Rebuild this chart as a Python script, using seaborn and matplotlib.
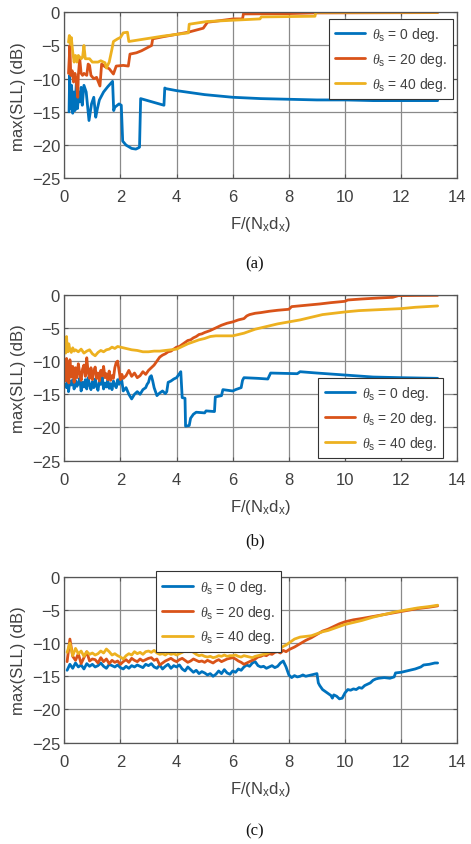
import matplotlib
matplotlib.use('Agg')
import matplotlib.pyplot as plt
import pandas as pd
import seaborn as sns

# ---- data ----
labels = [r'$\theta_{\rm s}$ = 0 deg.', r'$\theta_{\rm s}$ = 20 deg.', r'$\theta_{\rm s}$ = 40 deg.']
colors = ['#0072BD', '#D95319', '#EDB120']

# panel (a)
a0_x = [0.17, 0.19, 0.22, 0.26, 0.30, 0.34, 0.38, 0.43, 0.47, 0.52, 0.56, 0.60, 0.64, 0.70, 0.78,
        0.88, 0.97, 1.05, 1.12, 1.18, 1.25, 1.40, 1.55, 1.72, 1.76, 1.80, 1.95, 2.03, 2.08, 2.20,
        2.40, 2.55, 2.65, 2.68, 2.72, 3.55, 3.58, 3.62, 4.0, 4.5, 5.0, 5.5, 6.0, 7.0, 8.0, 9.0,
        10.0, 11.0, 12.0, 13.3]
a0_y = [-15.0, -9.5, -14.5, -11.0, -15.2, -12.0, -14.8, -10.5, -14.5, -12.0, -13.5, -11.3, -14.0,
        -11.0, -12.0, -16.3, -13.8, -12.8, -15.8, -14.5, -13.2, -12.0, -11.2, -10.4, -14.8, -14.3,
        -13.8, -14.0, -19.4, -20.0, -20.5, -20.6, -20.4, -20.3, -13.0, -14.0, -11.4, -11.5, -11.8,
        -12.1, -12.4, -12.6, -12.8, -13.0, -13.1, -13.2, -13.2, -13.3, -13.3, -13.3]
a20_x = [0.15, 0.20, 0.23, 0.28, 0.33, 0.38, 0.42, 0.48, 0.50, 0.55, 0.60, 0.65, 0.70, 0.80, 0.85,
         0.90, 0.95, 1.05, 1.15, 1.27, 1.33, 1.45, 1.60, 1.75, 1.85, 2.10, 2.28, 2.34, 2.57, 2.75,
         3.11, 3.15, 3.50, 4.42, 4.95, 5.10, 5.30, 6.02, 6.35, 6.38, 8.0, 8.87, 13.3]
a20_y = [-9.2, -5.0, -9.5, -8.8, -10.5, -9.2, -10.2, -12.8, -9.5, -7.0, -9.2, -9.5, -9.2, -9.5, -7.8,
         -8.0, -9.5, -10.0, -9.8, -11.1, -7.8, -8.2, -8.5, -9.3, -8.1, -8.0, -8.1, -6.3, -6.1, -5.8,
         -5.0, -4.0, -3.7, -3.0, -2.4, -1.5, -1.4, -1.0, -1.0, -0.25, -0.2, -0.1, -0.05]
a40_x = [0.15, 0.18, 0.22, 0.25, 0.30, 0.35, 0.40, 0.45, 0.50, 0.60, 0.65, 0.70, 0.75, 0.90, 1.00,
         1.20, 1.30, 1.45, 1.50, 1.60, 1.70, 1.75, 1.90, 2.00, 2.10, 2.25, 2.30, 3.50, 4.42, 4.45,
         5.07, 6.0, 6.97, 7.02, 8.93, 8.96, 13.3]
a40_y = [-4.5, -3.5, -4.8, -3.8, -6.0, -7.5, -6.5, -7.5, -6.5, -7.0, -6.8, -5.0, -7.0, -7.0, -7.5,
         -7.5, -7.3, -7.6, -8.4, -7.5, -5.5, -4.4, -4.0, -3.8, -3.1, -3.0, -4.4, -3.6, -3.1, -1.8,
         -1.4, -1.2, -1.0, -0.7, -0.6, 0.0, 0.0]

# panel (b)
b0_x = [0.05, 0.08, 0.12, 0.15, 0.2, 0.25, 0.3, 0.35, 0.4, 0.45, 0.5, 0.55, 0.6, 0.65, 0.7, 0.75,
        0.8, 0.85, 0.9, 0.95, 1.0, 1.05, 1.1, 1.15, 1.2, 1.25, 1.3, 1.35, 1.4, 1.45, 1.5, 1.55, 1.6,
        1.65, 1.7, 1.75, 1.8, 1.85, 1.9, 1.95, 2.0, 2.05, 2.1, 2.2, 2.3, 2.4, 2.5, 2.6, 2.7, 2.8,
        2.9, 2.95, 3.0, 3.05, 3.1, 3.15, 3.2, 3.3, 3.4, 3.5, 3.6, 3.65, 3.7, 3.8, 3.9, 4.0, 4.1,
        4.15, 4.2, 4.3, 4.32, 4.45, 4.5, 4.6, 4.7, 5.0, 5.05, 5.35, 5.38, 5.6, 5.65, 6.0, 6.1, 6.3,
        6.35, 6.4, 6.9, 7.25, 7.35, 8.3, 8.4, 9.0, 10.0, 11.0, 12.0, 13.3]
b0_y = [-13.5, -14.0, -12.0, -14.6, -13.0, -13.6, -12.8, -14.2, -12.9, -13.8, -13.3, -12.6, -14.5,
        -13.2, -13.9, -12.8, -14.2, -12.5, -13.6, -14.3, -13.1, -14.0, -12.7, -13.8, -14.4, -13.0,
        -13.5, -12.4, -14.2, -13.3, -13.9, -12.9, -14.1, -13.4, -14.3, -13.0, -13.6, -14.0, -12.8,
        -13.5, -12.3, -13.0, -14.5, -14.0, -15.0, -15.7, -15.0, -14.6, -15.0, -14.3, -14.0, -13.5,
        -13.2, -12.4, -12.2, -13.0, -14.0, -15.2, -14.8, -14.5, -14.9, -14.6, -13.2, -13.0, -12.7,
        -12.5, -11.9, -11.6, -15.5, -15.6, -19.8, -19.7, -18.6, -18.0, -17.7, -17.8, -17.5, -17.6,
        -15.4, -15.2, -14.3, -14.5, -14.3, -14.0, -12.9, -12.5, -12.6, -12.7, -11.8, -11.9, -11.6,
        -11.8, -12.1, -12.4, -12.5, -12.6]
b20_x = [0.05, 0.08, 0.1, 0.13, 0.16, 0.2, 0.25, 0.3, 0.35, 0.4, 0.45, 0.5, 0.55, 0.6, 0.65, 0.7,
         0.75, 0.8, 0.85, 0.9, 0.95, 1.0, 1.05, 1.1, 1.15, 1.2, 1.25, 1.3, 1.35, 1.4, 1.45, 1.5,
         1.55, 1.6, 1.65, 1.7, 1.75, 1.8, 1.85, 1.9, 1.95, 2.0, 2.05, 2.1, 2.2, 2.3, 2.4, 2.5, 2.6,
         2.7, 2.8, 2.9, 3.0, 3.1, 3.2, 3.3, 3.4, 3.5, 3.6, 3.7, 3.8, 3.9, 4.0, 4.1, 4.2, 4.3, 4.4,
         4.5, 4.6, 4.7, 4.8, 4.9, 5.0, 5.2, 5.4, 5.6, 5.8, 6.0, 6.2, 6.4, 6.5, 6.6, 6.8, 7.0, 7.3,
         7.6, 8.0, 8.1, 8.6, 9.1, 9.5, 10.0, 10.1, 10.6, 11.2, 11.7, 11.9, 12.5, 13.3]
b20_y = [-13.0, -9.6, -12.5, -10.2, -13.3, -9.8, -12.4, -10.8, -13.2, -11.0, -12.5, -10.4, -11.8,
         -12.9, -11.2, -10.6, -12.3, -9.5, -11.7, -12.6, -11.0, -12.8, -11.5, -10.9, -12.6, -11.8,
         -13.0, -11.4, -12.2, -10.8, -12.5, -11.9, -12.8, -11.5, -12.9, -12.2, -12.6, -11.0, -10.2,
         -10.0, -11.4, -12.8, -12.0, -12.6, -12.2, -11.4, -12.3, -11.8, -12.5, -12.2, -11.6, -12.0,
         -11.4, -11.0, -10.6, -10.0, -9.4, -9.1, -8.9, -8.6, -8.5, -8.2, -7.9, -7.8, -7.5, -7.2,
         -6.9, -6.8, -6.5, -6.3, -6.0, -5.9, -5.7, -5.4, -5.0, -4.6, -4.3, -4.1, -3.8, -3.6, -3.2,
         -3.0, -2.8, -2.7, -2.5, -2.35, -2.2, -1.8, -1.6, -1.4, -1.2, -1.0, -0.8, -0.65, -0.5,
         -0.4, -0.15, -0.12, -0.1]
b40_x = [0.05, 0.08, 0.1, 0.13, 0.16, 0.2, 0.25, 0.3, 0.35, 0.4, 0.5, 0.6, 0.7, 0.8, 0.9, 1.0, 1.1,
         1.2, 1.3, 1.4, 1.5, 1.6, 1.7, 1.8, 1.9, 2.0, 2.2, 2.4, 2.6, 2.8, 3.0, 3.2, 3.4, 3.6, 3.8,
         4.0, 4.2, 4.4, 4.6, 4.8, 5.0, 5.2, 5.4, 5.6, 5.8, 6.0, 6.2, 6.4, 6.6, 6.8, 7.0, 7.3, 7.6,
         8.0, 8.4, 8.8, 9.2, 9.6, 10.0, 10.5, 11.0, 11.5, 12.0, 12.5, 13.3]
b40_y = [-8.8, -6.3, -7.8, -8.6, -7.4, -8.3, -8.7, -8.0, -8.5, -8.3, -8.6, -8.2, -8.8, -8.5, -8.3,
         -8.9, -9.2, -8.7, -8.4, -8.6, -8.3, -8.2, -7.9, -8.1, -7.8, -7.9, -8.1, -8.3, -8.4, -8.6,
         -8.6, -8.5, -8.5, -8.4, -8.3, -8.2, -7.8, -7.4, -7.1, -6.8, -6.6, -6.3, -6.2, -6.2, -6.2,
         -6.2, -6.0, -5.8, -5.5, -5.2, -5.0, -4.7, -4.4, -4.1, -3.8, -3.4, -3.0, -2.8, -2.6, -2.4,
         -2.3, -2.2, -2.1, -1.9, -1.7]

# panel (c): dense part every 0.1 from 0.1 to 8.0, then sparser
c_dense_x = [round(0.1 * k, 1) for k in range(1, 81)]
c0_y_dense = [-14.1, -13.2, -13.8, -13.0, -13.6, -13.3, -13.9, -13.1, -13.5, -13.2,
              -13.6, -13.4, -13.0, -13.5, -13.8, -13.2, -13.4, -13.6, -13.3, -13.7,
              -13.9, -13.5, -13.8, -13.4, -13.6, -13.3, -13.5, -13.7, -13.2, -13.4,
              -13.1, -13.6, -13.8, -13.3, -13.9, -13.5, -13.2, -13.8, -13.4, -13.6,
              -13.3, -13.9, -14.2, -13.6, -14.0, -14.4, -14.1, -14.6, -14.3, -14.5,
              -14.8, -14.6, -15.0, -14.7, -14.2, -14.6, -14.0, -14.5, -14.7, -14.2,
              -14.4, -13.9, -14.1, -13.6, -13.3, -13.5, -13.0, -12.8, -13.4, -13.6,
              -13.5, -13.8, -13.6, -13.4, -13.7, -13.5, -13.0, -12.7, -13.6, -14.8]
c0_x_tail = [8.1, 8.2, 8.3, 8.4, 8.5, 8.6, 8.7, 8.8, 8.9, 9.0, 9.05, 9.1, 9.2, 9.3, 9.4, 9.5, 9.55,
             9.6, 9.7, 9.8, 9.9, 10.0, 10.1, 10.2, 10.3, 10.4, 10.5, 10.6, 10.7, 10.8, 10.9, 11.0,
             11.1, 11.2, 11.4, 11.6, 11.75, 11.8, 12.0, 12.2, 12.4, 12.5, 12.7, 12.8, 13.0, 13.2, 13.3]
c0_y_tail = [-15.2, -14.9, -15.1, -15.0, -14.8, -15.0, -14.9, -14.8, -14.7, -14.6, -16.0, -16.4,
             -17.0, -17.3, -17.6, -17.9, -18.3, -17.8, -18.0, -18.4, -18.3, -17.5, -17.0, -17.1,
             -16.9, -17.0, -16.7, -16.8, -16.4, -16.2, -16.0, -15.6, -15.4, -15.3, -15.2, -15.3,
             -15.1, -14.5, -14.4, -14.2, -14.0, -13.9, -13.6, -13.3, -13.2, -13.0, -13.0]
c20_y_dense = [-12.8, -9.4, -12.0, -12.6, -11.6, -13.1, -12.2, -11.3, -12.7, -12.4,
               -12.5, -13.0, -12.2, -12.8, -12.4, -13.1, -12.6, -12.9, -12.7, -13.2,
               -12.8, -12.5, -12.9, -12.3, -12.6, -12.8, -12.4, -12.7, -12.5, -12.3,
               -12.2, -12.6, -12.4, -13.3, -13.0, -12.7, -12.5, -12.3, -12.6, -12.8,
               -12.5, -12.3, -12.6, -12.9, -12.7, -12.4, -12.6, -12.8, -12.7, -12.9,
               -12.6, -12.8, -13.0, -12.7, -12.5, -12.8, -12.6, -12.4, -12.3, -12.2,
               -12.4, -12.7, -12.9, -13.2, -13.0, -12.8, -12.6, -12.4, -12.1, -12.0,
               -11.8, -11.9, -11.6, -11.7, -11.4, -11.3, -11.5, -11.1, -11.3, -11.0]
c20_x_tail = [8.2, 8.4, 8.6, 8.8, 9.0, 9.2, 9.4, 9.6, 9.8, 10.0, 10.3, 10.6, 11.0, 11.4, 11.8,
              12.2, 12.6, 13.0, 13.3]
c20_y_tail = [-10.6, -10.1, -9.6, -9.2, -8.7, -8.2, -7.9, -7.5, -7.1, -6.8, -6.5, -6.3, -6.0,
              -5.7, -5.4, -5.1, -4.8, -4.6, -4.4]
c40_y_dense = [-11.4, -10.0, -11.9, -10.8, -11.6, -11.2, -12.0, -11.3, -11.7, -11.5,
               -11.8, -11.6, -11.2, -11.5, -10.9, -11.3, -11.8, -11.6, -11.9, -12.1,
               -12.4, -11.9, -11.6, -11.8, -11.3, -11.6, -11.4, -11.7, -11.3, -11.2,
               -11.4, -11.1, -11.5, -11.7, -11.6, -11.8, -11.5, -11.7, -11.6, -11.8,
               -11.6, -11.4, -11.2, -11.3, -10.9, -11.4, -11.7, -11.9, -11.8, -12.0,
               -12.1, -12.0, -12.2, -12.1, -11.9, -12.0, -11.8, -12.0, -11.9, -11.9,
               -11.8, -12.0, -12.1, -11.9, -12.0, -12.1, -12.2, -12.0, -11.9, -11.8,
               -11.7, -11.6, -11.4, -11.2, -11.0, -10.9, -10.8, -10.5, -10.3, -10.0]
c40_x_tail = [8.2, 8.4, 8.6, 8.8, 9.0, 9.2, 9.4, 9.6, 9.8, 10.0, 10.3, 10.6, 11.0, 11.4, 11.8,
              12.2, 12.6, 13.0, 13.3]
c40_y_tail = [-9.4, -9.1, -9.0, -8.9, -8.6, -8.3, -8.1, -7.8, -7.5, -7.2, -6.9, -6.6, -6.1, -5.7,
              -5.3, -5.0, -4.7, -4.5, -4.3]

xticks = [0, 2, 4, 6, 8, 10, 12, 14]
yticks = [0, -5, -10, -15, -20, -25]
captions = ['(a)', '(b)', '(c)']


def make_df(series):
    parts = []
    for lab, (xs, ys) in zip(labels, series):
        parts.append(pd.DataFrame({'F': xs, 'SLL': ys, 'theta': lab}))
    return pd.concat(parts, ignore_index=True)


panels = [
    make_df([(a0_x, a0_y), (a20_x, a20_y), (a40_x, a40_y)]),
    make_df([(b0_x, b0_y), (b20_x, b20_y), (b40_x, b40_y)]),
    make_df([(c_dense_x + c0_x_tail, c0_y_dense + c0_y_tail),
             (c_dense_x + c20_x_tail, c20_y_dense + c20_y_tail),
             (c_dense_x + c40_x_tail, c40_y_dense + c40_y_tail)]),
]

sns.set_style('ticks')
plt.rcParams['font.family'] = ['Liberation Sans', 'DejaVu Sans']
plt.rcParams['mathtext.fontset'] = 'custom'
plt.rcParams['mathtext.rm'] = 'Liberation Sans'
plt.rcParams['mathtext.it'] = 'Liberation Serif:italic'

fig = plt.figure(figsize=(4.71, 8.45), dpi=100)
ax_rects = [[0.1365, 0.7878, 0.8344, 0.1965],
            [0.1365, 0.4536, 0.8344, 0.1965],
            [0.1365, 0.1199, 0.8344, 0.1965]]
leg_pos = [('upper right', (0.99, 0.962)), ('lower right', (0.964, 0.016)), ('upper left', (0.233, 1.032))]
cap_y = [0.687, 0.359, 0.0157]
txt = '#404040'

for i, df in enumerate(panels):
    ax = fig.add_axes(ax_rects[i])
    sns.lineplot(data=df, x='F', y='SLL', hue='theta', hue_order=labels, palette=colors,
                 estimator=None, sort=False, linewidth=2.0, legend=False, ax=ax)
    ax.set_xlim(0, 14)
    ax.set_ylim(-25, 0)
    ax.set_xticks(xticks)
    ax.set_yticks(yticks)
    ax.grid(True, color='#8a8a8a', linewidth=0.9)
    ax.set_axisbelow(True)
    for sp in ax.spines.values():
        sp.set_color('#555555')
        sp.set_linewidth(0.9)
    ax.tick_params(axis='both', direction='in', length=3, colors='#555555', labelcolor=txt,
                   labelsize=12, top=True, right=True)
    ax.tick_params(axis='x', pad=8)
    ax.tick_params(axis='y', pad=3)
    ax.set_xlabel(r'F/(N$_{\rm x}$d$_{\rm x}$)', fontsize=12, color=txt, labelpad=7)
    ax.set_ylabel('max(SLL) (dB)', fontsize=12, color=txt, labelpad=4)
    loc, anchor = leg_pos[i]
    leg = ax.legend(ax.lines[:3], labels, loc=loc, bbox_to_anchor=anchor, borderaxespad=0,
                    fontsize=10, fancybox=False, framealpha=1, edgecolor='#333333',
                    handlelength=2.2, handletextpad=0.5, borderpad=0.45, labelspacing=0.5)
    for t in leg.get_texts():
        t.set_color(txt)
    leg.get_frame().set_linewidth(0.8)
    fig.text(0.541, cap_y[i], captions[i], ha='center', va='center', fontsize=12,
             family='Liberation Serif', color='#111111')

fig.savefig('out.png', dpi=100)
